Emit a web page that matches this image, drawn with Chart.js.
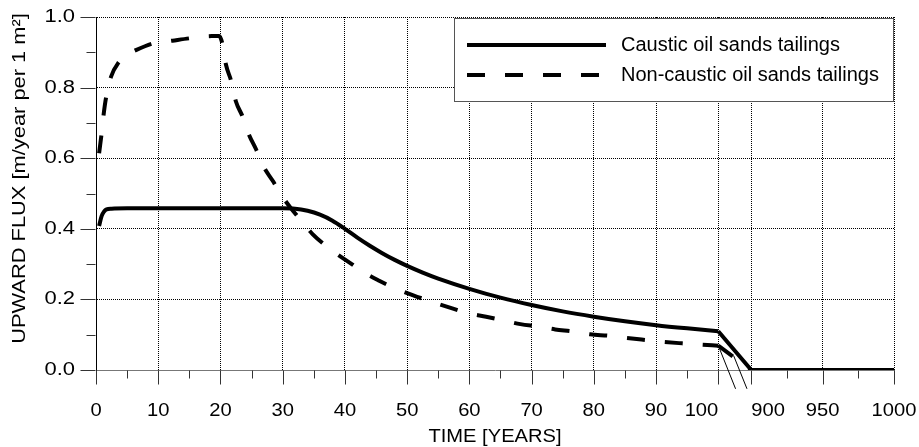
<!DOCTYPE html>
<html>
<head>
<meta charset="utf-8">
<script src="https://cdn.jsdelivr.net/npm/chart.js@4.4.1/dist/chart.umd.min.js"></script>
<style>
  html, body { margin: 0; padding: 0; background: #fff; }
  #wrap { width: 919px; height: 447px; }
</style>
</head>
<body>
<div id="wrap"><canvas id="c" width="919" height="447"></canvas></div>
<script>
// ---------------- DATA ----------------
const causticYears = [0.5, 0.9, 1.3, 1.7, 2.5, 5, 10, 20, 30, 32, 34, 36, 38, 40, 42, 44, 46, 48, 50, 52.5, 55, 60, 65, 70, 75, 80, 85, 90, 95, 100, 900, 1000];
const causticFlux  = [0.408, 0.436, 0.449, 0.455, 0.457, 0.458, 0.458, 0.458, 0.458, 0.457, 0.451, 0.440, 0.423, 0.400, 0.375, 0.352, 0.331, 0.312, 0.295, 0.276, 0.259, 0.230, 0.205, 0.184, 0.166, 0.151, 0.138, 0.127, 0.118, 0.110, 0.0, 0.0];

const nonCausticYears = [0.5, 0.9, 1.2, 1.6, 2.4, 3.7, 5, 6.4, 9.1, 12.3, 15.2, 18.6, 19.8, 20.3, 20.9, 21.7, 22.5, 23.5, 24.6, 25.7, 27, 28.4, 30, 31.3, 33.3, 34.8, 36.8, 38.7, 41.1, 42.9, 45.5, 47.5, 50, 52.5, 55, 57.5, 60, 62.7, 65.6, 68.2, 71.1, 73.8, 76.7, 79.4, 82.5, 85.2, 88.3, 91, 94.2, 97, 100, 900, 1000];
const nonCausticFlux  = [0.614, 0.67, 0.72, 0.77, 0.83, 0.873, 0.893, 0.906, 0.925, 0.933, 0.940, 0.946, 0.946, 0.925, 0.864, 0.82, 0.76, 0.72, 0.666, 0.626, 0.574, 0.536, 0.49, 0.459, 0.416, 0.385, 0.354, 0.329, 0.30, 0.278, 0.253, 0.236, 0.218, 0.202, 0.187, 0.173, 0.16, 0.151, 0.14, 0.13, 0.123, 0.115, 0.109, 0.101, 0.097, 0.091, 0.085, 0.08, 0.0755, 0.072, 0.069, 0.0, 0.0];

const seriesLabels = ['Caustic oil sands tailings', 'Non-caustic oil sands tailings'];

const xMajorTicks = [0, 10, 20, 30, 40, 50, 60, 70, 80, 90, 100, 900, 950, 1000];
const xMinorTicks = [5, 15, 25, 35, 45, 55, 65, 75, 85, 95, 925, 975];
const yMajorTicks = [0, 0.2, 0.4, 0.6, 0.8, 1.0];
const yMinorTicks = [0.1, 0.3, 0.5, 0.7, 0.9];

const xTitle = 'TIME [YEARS]';
const yTitle = 'UPWARD FLUX [m/year per 1 m\u00B2]';

// ---------------- BROKEN AXIS SCALE ----------------
const BREAK_START = 100, BREAK_END = 900;
const GAP_UNITS = 5.3;      // width of the break, in units of the 0..100 section
const TAIL_FACTOR = 0.2294; // compression of the 900..1000 section

function warp(v) {
  if (v <= BREAK_START) return v;
  if (v <= BREAK_END) return BREAK_START + (v - BREAK_START) / (BREAK_END - BREAK_START) * GAP_UNITS;
  return BREAK_START + GAP_UNITS + (v - BREAK_END) * TAIL_FACTOR;
}
function unwarp(u) {
  if (u <= BREAK_START) return u;
  if (u <= BREAK_START + GAP_UNITS) return BREAK_START + (u - BREAK_START) / GAP_UNITS * (BREAK_END - BREAK_START);
  return BREAK_END + (u - BREAK_START - GAP_UNITS) / TAIL_FACTOR;
}

class BrokenScale extends Chart.LinearScale {
  buildTicks() {
    return xMajorTicks.map(v => ({ value: v }));
  }
  getPixelForValue(v) {
    const u0 = warp(this.min), u1 = warp(this.max);
    return this.getPixelForDecimal((warp(v) - u0) / (u1 - u0));
  }
  getValueForPixel(p) {
    const u0 = warp(this.min), u1 = warp(this.max);
    return unwarp(u0 + this.getDecimalForPixel(p) * (u1 - u0));
  }
}
BrokenScale.id = 'broken';
BrokenScale.defaults = Chart.LinearScale.defaults;
Chart.register(BrokenScale);

const FONT = "'Liberation Sans', Arial, sans-serif";

// split each series into the smooth part (0..100) and the straight part across the break
const splitAt = (xs) => xs.indexOf(BREAK_START);
const toXY = (xs, ys, a, b) => xs.slice(a, b).map((t, i) => ({ x: t, y: ys[a + i] }));
const cI = splitAt(causticYears), nI = splitAt(nonCausticYears);

// text drawn with a slight horizontal stretch (as in the original figure)
function stretchedText(ctx, text, x, y, align, sx, font) {
  ctx.save();
  ctx.font = font;
  ctx.fillStyle = '#000';
  ctx.textBaseline = 'middle';
  const w = ctx.measureText(text).width * sx;
  let left = x;
  if (align === 'center') left = x - w / 2;
  else if (align === 'right') left = x - w;
  ctx.translate(left, y);
  ctx.scale(sx, 1);
  ctx.textAlign = 'left';
  ctx.fillText(text, 0, 0);
  ctx.restore();
}

// ---------------- PLUGINS ----------------
const decorPlugin = {
  id: 'decor',
  afterDatasetsDraw(chart) {
    const { ctx, chartArea: ca, scales: { x, y } } = chart;
    ctx.save();
    // tick marks
    ctx.lineWidth = 1;
    ctx.strokeStyle = '#333';
    const axisY = Math.round(y.getPixelForValue(0)) + 0.5;
    ctx.beginPath();
    xMajorTicks.forEach(v => { const px = Math.round(x.getPixelForValue(v)) + 0.5; ctx.moveTo(px, axisY); ctx.lineTo(px, axisY + 14); });
    xMinorTicks.forEach(v => { const px = Math.round(x.getPixelForValue(v)) + 0.5; ctx.moveTo(px, axisY); ctx.lineTo(px, axisY + 8); });
    const axisX = Math.round(ca.left) - 0.5;
    yMajorTicks.forEach(v => { const py = Math.round(y.getPixelForValue(v)) + 0.5; ctx.moveTo(axisX - 15, py); ctx.lineTo(axisX, py); });
    yMinorTicks.forEach(v => { const py = Math.round(y.getPixelForValue(v)) + 0.5; ctx.moveTo(axisX - 9, py); ctx.lineTo(axisX, py); });
    ctx.stroke();

    // tick labels
    xMajorTicks.forEach(v => {
      const align = v === BREAK_START ? 'right' : (v === BREAK_END ? 'left' : 'center');
      stretchedText(ctx, String(v), x.getPixelForValue(v), axisY + 41, align, 1.12, '18px ' + FONT);
    });
    yMajorTicks.forEach(v => {
      stretchedText(ctx, v.toFixed(1), ca.left - 21, y.getPixelForValue(v), 'right', 1.22, '18px ' + FONT);
    });

    // axis break marks
    const xb = x.getPixelForValue(BREAK_START);
    ctx.strokeStyle = '#000';
    ctx.lineWidth = 1;
    ctx.beginPath();
    ctx.moveTo(xb, axisY - 25); ctx.lineTo(xb + 17.3, axisY + 18.3);
    ctx.moveTo(xb + 15.3, axisY - 15); ctx.lineTo(xb + 28.7, axisY + 18.3);
    ctx.stroke();

    // legend
    const lx1 = ca.right - 440, lx2 = ca.right, ly1 = ca.top + 1, ly2 = ca.top + 84;
    ctx.fillStyle = '#fff';
    ctx.fillRect(lx1, ly1, lx2 - lx1, ly2 - ly1);
    ctx.strokeStyle = '#555';
    ctx.lineWidth = 1;
    ctx.strokeRect(Math.round(lx1) + 0.5, Math.round(ly1) + 0.5, Math.round(lx2 - lx1) - 1, Math.round(ly2 - ly1));
    const rows = [ly1 + 27, ly1 + 57];
    chart.data.datasets.slice(0, 2).forEach((ds, i) => {
      ctx.beginPath();
      ctx.setLineDash(ds.borderDash || []);
      ctx.lineWidth = 4;
      ctx.strokeStyle = '#000';
      ctx.moveTo(lx1 + 13, rows[i]);
      ctx.lineTo(lx1 + 152, rows[i]);
      ctx.stroke();
      ctx.setLineDash([]);
      ctx.fillStyle = '#000';
      ctx.font = '20px ' + FONT;
      ctx.textBaseline = 'middle';
      ctx.textAlign = 'left';
      ctx.fillText(ds.label, lx1 + 167, rows[i]);
    });

    // y axis title
    ctx.save();
    ctx.translate(ca.left - 76, (ca.top + ca.bottom) / 2 - 15);
    ctx.rotate(-Math.PI / 2);
    ctx.scale(1.15, 1);
    ctx.font = '19px ' + FONT;
    ctx.fillStyle = '#000';
    ctx.textAlign = 'center';
    ctx.textBaseline = 'middle';
    ctx.fillText(yTitle, 0, 0);
    ctx.restore();

    // x axis title
    stretchedText(ctx, xTitle, (ca.left + ca.right) / 2, axisY + 66, 'center', 1.06, '19px ' + FONT);
    ctx.restore();
  }
};

// ---------------- CHART ----------------
const lineStyle = { borderColor: '#000', borderWidth: 4, pointRadius: 0, fill: false, borderJoinStyle: 'round' };

new Chart(document.getElementById('c'), {
  type: 'line',
  data: {
    datasets: [
      Object.assign({ label: seriesLabels[0], data: toXY(causticYears, causticFlux, 0, cI + 1), cubicInterpolationMode: 'monotone' }, lineStyle),
      Object.assign({ label: seriesLabels[1], data: toXY(nonCausticYears, nonCausticFlux, 0, nI + 1), cubicInterpolationMode: 'monotone', borderDash: [18, 20] }, lineStyle),
      Object.assign({ label: seriesLabels[0], data: toXY(causticYears, causticFlux, cI), tension: 0 }, lineStyle),
      Object.assign({ label: seriesLabels[1], data: toXY(nonCausticYears, nonCausticFlux, nI), tension: 0, borderDash: [18, 20] }, lineStyle)
    ]
  },
  options: {
    responsive: false,
    animation: false,
    events: [],
    layout: { padding: { left: 0, top: 17, right: 25, bottom: 0 } },
    plugins: { legend: { display: false }, tooltip: { enabled: false }, title: { display: false } },
    scales: {
      x: {
        type: 'broken',
        min: 0,
        max: 1000,
        afterFit: s => { s.height = 77; s.paddingLeft = 0; s.paddingRight = 0; },
        grid: {
          drawTicks: false,
          color: ctx => (ctx.tick && ctx.tick.value === 0) ? 'rgba(0,0,0,0)' : '#000',
          lineWidth: 1
        },
        border: { display: true, color: '#777', width: 1, dash: [1, 1] },
        ticks: { display: false, autoSkip: false, maxRotation: 0 },
        title: { display: false }
      },
      y: {
        min: 0,
        max: 1,
        afterFit: s => { s.width = 96; s.paddingTop = 0; s.paddingBottom = 0; },
        afterBuildTicks: s => { s.ticks = yMajorTicks.map(v => ({ value: v })); },
        grid: {
          drawTicks: false,
          color: ctx => (ctx.tick && ctx.tick.value === 0) ? 'rgba(0,0,0,0)' : '#000',
          lineWidth: 1
        },
        border: { display: true, color: '#000', width: 1, dash: [1, 1] },
        ticks: { display: false }
      }
    }
  },
  plugins: [decorPlugin]
});
</script>
</body>
</html>
